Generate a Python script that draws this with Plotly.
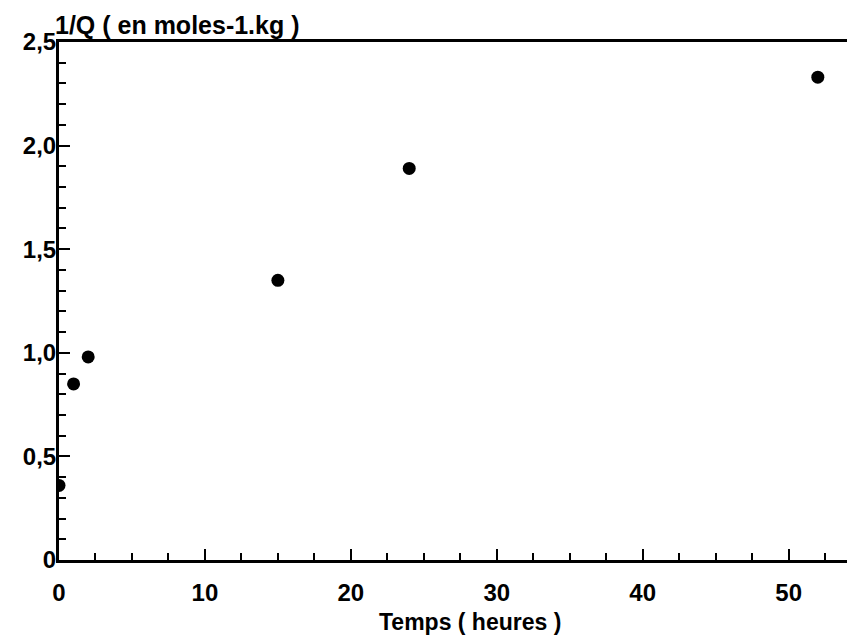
import plotly.graph_objects as go

# temps (heures) et 1/Q
temps = [0, 1, 2, 15, 24, 52]
inv_q = [0.36, 0.85, 0.98, 1.35, 1.89, 2.33]

x_ticks = [0, 10, 20, 30, 40, 50]
y_ticks = [0, 0.5, 1.0, 1.5, 2.0, 2.5]
y_tick_labels = ["0", "0,5", "1,0", "1,5", "2,0", "2,5"]

# la page garde une marge de 8 px autour de la figure
fig = go.Figure(
    data=[go.Scatter(x=temps, y=inv_q, mode="markers",
                     marker=dict(size=13, color="black"), showlegend=False)],
    layout=go.Layout(
        width=839, height=627,
        margin=dict(l=51, r=0, t=34, b=75),
        plot_bgcolor="white", paper_bgcolor="white",
        font=dict(family="Liberation Sans, Arial, sans-serif", size=24, color="black"),
        xaxis=dict(range=[0, 54], tickvals=x_ticks, ticktext=[str(v) for v in x_ticks],
                   showgrid=False, zeroline=False,
                   showline=True, linecolor="black", linewidth=3, mirror=True,
                   ticks="inside", ticklen=11, tickwidth=2, tickcolor="black",
                   ticklabelstandoff=9,
                   tickfont=dict(size=24, weight="bold"),
                   minor=dict(dtick=2.5, tick0=0, ticks="inside", ticklen=7,
                              tickwidth=2, tickcolor="black", showgrid=False)),
        yaxis=dict(range=[0, 2.5], tickvals=y_ticks, ticktext=y_tick_labels,
                   showgrid=False, zeroline=False,
                   showline=True, linecolor="black", linewidth=3,
                   ticks="inside", ticklen=11, tickwidth=2, tickcolor="black",
                   ticklabelstandoff=-5,
                   tickfont=dict(size=24, weight="bold"),
                   minor=dict(dtick=0.1, tick0=0, ticks="inside", ticklen=7,
                              tickwidth=2, tickcolor="black", showgrid=False)),
        annotations=[
            dict(text="<b>1/Q ( en moles-1.kg )</b>", xref="paper", yref="paper",
                 x=0, y=1, xshift=-6, yshift=17, xanchor="left", yanchor="middle",
                 showarrow=False, font=dict(size=25)),
            dict(text="<b>Temps ( heures )</b>", xref="paper", yref="paper",
                 x=0.522, y=0, yshift=-62, xanchor="center", yanchor="middle",
                 showarrow=False, font=dict(size=23)),
        ],
    ),
)

fig.write_html("out.html")
